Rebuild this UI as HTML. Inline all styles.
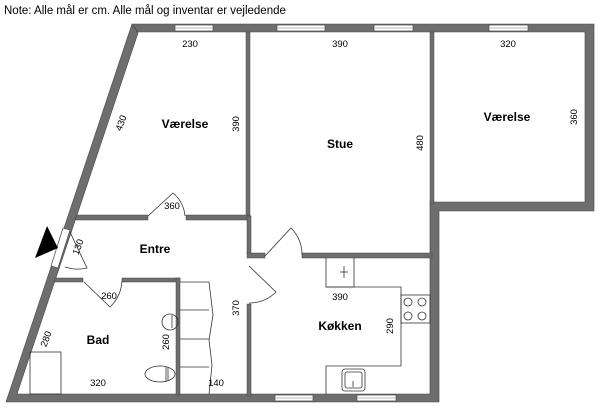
<!DOCTYPE html>
<html><head><meta charset="utf-8"><style>
html,body{margin:0;padding:0;background:#fff;width:600px;height:412px;overflow:hidden}
svg{display:block}
text{font-family:"Liberation Sans",sans-serif;fill:#000}
.l{font-size:12px;font-weight:bold}
.d{font-size:9.5px}
</style></head><body>
<svg width="600" height="412" viewBox="0 0 600 412" xmlns="http://www.w3.org/2000/svg">
<text x="4" y="14" style="font-size:11.5px">Note: Alle mål er cm. Alle mål og inventar er vejledende</text>
<g fill="#6e6e6e" stroke="#444" stroke-width="0.6">
<polygon points="132,24 594,24 594,211 439,211 439,402 6,402 132,24 138,33 17,394 430,394 430,202 585,202 585,32 138,32" fill-rule="evenodd"/>
</g>
<g fill="#fff" stroke="#555" stroke-width="0.8">
<rect x="175" y="25" width="38" height="6"/><rect x="277" y="25" width="48" height="6"/><rect x="374" y="25" width="39" height="6"/><rect x="489" y="25" width="39" height="6"/>
<rect x="275" y="395" width="38" height="6"/><rect x="357" y="395" width="39" height="6"/>
</g>
<g stroke="#777" stroke-width="0.6"><line x1="176" y1="28" x2="212" y2="28"/><line x1="278" y1="28" x2="324" y2="28"/><line x1="375" y1="28" x2="412" y2="28"/><line x1="490" y1="28" x2="527" y2="28"/><line x1="276" y1="398" x2="312" y2="398"/><line x1="358" y1="398" x2="395" y2="398"/></g>
<polygon points="63,228 70,230 58,268 51,266" fill="#fff" stroke="#555" stroke-width="0.8"/>
<polygon points="35,258 47,226 58,248" fill="#000"/>
<g fill="#6e6e6e" stroke="#444" stroke-width="0.5">
<rect x="246" y="32" width="4" height="184"/>
<rect x="430" y="32" width="4" height="172"/>
<polygon points="77,215 148,215 148,220 75,220"/>
<rect x="186" y="215" width="64" height="5"/>
<rect x="247" y="216" width="4" height="37"/>
<rect x="247" y="253" width="18" height="5"/>
<rect x="302" y="253" width="130" height="5"/>
<rect x="247" y="304" width="4" height="92"/>
<polygon points="55,278 83,278 83,282 54,282"/>
<rect x="122" y="278" width="58" height="4"/>
<rect x="176" y="278" width="4" height="117"/>
</g>
<g fill="none" stroke="#333" stroke-width="0.8">
<path d="M148,216 L173,193 A34,34 0 0 1 185,216"/>
<path d="M70,232 L87,268 A40,40 0 0 1 65,267"/>
<path d="M84,282 L110,307 A39,39 0 0 0 122,281"/>
<path d="M265,256 L291,228 A37,37 0 0 1 302,255"/>
<path d="M249,266 L276,292 A38,38 0 0 1 249,303"/>
</g>
<g fill="none" stroke="#333" stroke-width="0.8">
<rect x="30" y="352" width="31" height="42"/>
<line x1="180" y1="282" x2="209" y2="282"/><line x1="180" y1="310" x2="209" y2="310"/><line x1="180" y1="339" x2="209" y2="339"/><line x1="180" y1="367" x2="209" y2="367"/>
<path d="M209,282 L213,315 L209,340 L212,365 L209,394"/>
<circle cx="170" cy="322" r="8"/><line x1="172" y1="315" x2="172" y2="328"/>
<ellipse cx="160" cy="374" rx="15" ry="8"/><line x1="166" y1="367" x2="166" y2="381"/><line x1="168" y1="367" x2="168" y2="381"/>
</g>
<g fill="none" stroke="#333" stroke-width="0.8">
<polyline points="326,258 326,287 401,287 401,366 326,366 326,394"/>
<line x1="326" y1="287" x2="354" y2="287"/><line x1="354" y1="258" x2="354" y2="287"/>
<line x1="340" y1="272" x2="348" y2="272"/><line x1="344" y1="266" x2="344" y2="278"/>
<rect x="401" y="295" width="29" height="28"/>
<circle cx="408" cy="302" r="4"/><circle cx="422" cy="302" r="4"/><circle cx="408" cy="316" r="4"/><circle cx="422" cy="316" r="4"/>
<rect x="342" y="369" width="23" height="22" rx="3"/><rect x="345" y="372" width="17" height="16" rx="2"/>
<line x1="353" y1="381" x2="353" y2="387"/>
</g>
<text class="l" x="185" y="128" text-anchor="middle">Værelse</text>
<text class="l" x="340" y="148" text-anchor="middle">Stue</text>
<text class="l" x="507" y="121" text-anchor="middle">Værelse</text>
<text class="l" x="155" y="253" text-anchor="middle">Entre</text>
<text class="l" x="98" y="344" text-anchor="middle">Bad</text>
<text class="l" x="340" y="330" text-anchor="middle">Køkken</text>
<text class="d" x="190" y="47" text-anchor="middle">230</text>
<text class="d" x="340" y="47" text-anchor="middle">390</text>
<text class="d" x="508" y="47" text-anchor="middle">320</text>
<text class="d" x="172" y="209" text-anchor="middle">360</text>
<text class="d" x="109" y="299" text-anchor="middle">260</text>
<text class="d" x="98" y="386" text-anchor="middle">320</text>
<text class="d" x="216" y="386" text-anchor="middle">140</text>
<text class="d" x="340" y="300" text-anchor="middle">390</text>
<text class="d" transform="translate(124,124) rotate(-70)" text-anchor="middle">430</text>
<text class="d" transform="translate(239,124) rotate(-90)" text-anchor="middle">390</text>
<text class="d" transform="translate(423,143) rotate(-90)" text-anchor="middle">480</text>
<text class="d" transform="translate(577,117) rotate(-90)" text-anchor="middle">360</text>
<text class="d" transform="translate(81,248) rotate(-70)" text-anchor="middle">130</text>
<text class="d" transform="translate(49,340) rotate(-70)" text-anchor="middle">280</text>
<text class="d" transform="translate(169,342) rotate(-90)" text-anchor="middle">260</text>
<text class="d" transform="translate(239,308) rotate(-90)" text-anchor="middle">370</text>
<text class="d" transform="translate(393,326) rotate(-90)" text-anchor="middle">290</text>
</svg>
</body></html>
